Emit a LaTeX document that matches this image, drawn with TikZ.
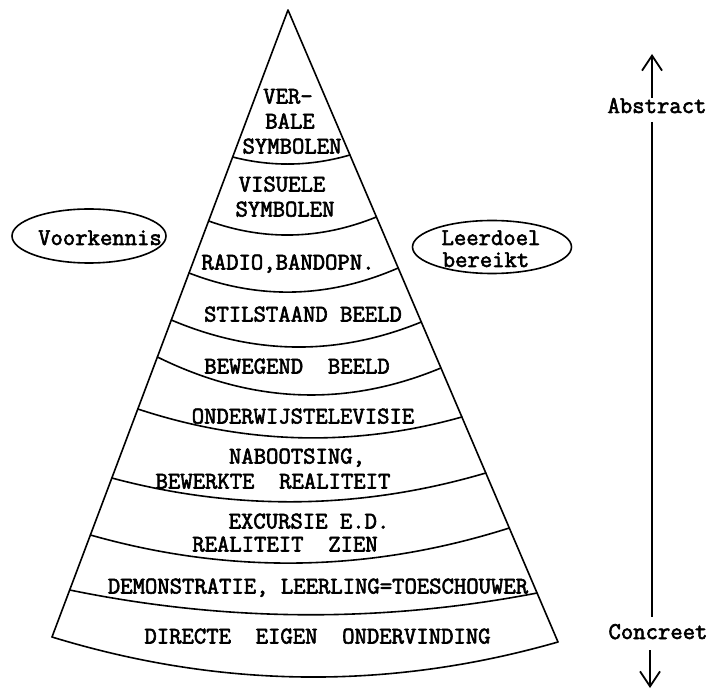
\documentclass[tikz,border=0pt]{standalone}
\usepackage{fontspec}
\newfontfamily\twfont{Latin Modern Mono}[FakeBold=2.5]
\usetikzlibrary{shapes.geometric,arrows.meta,calc}
\newcommand\pyrband[5]{\draw[edge] (#1,#2) .. controls ($(#1,#2)!1/3!(#3,#4)+(0,#5)$) and ($(#1,#2)!2/3!(#3,#4)+(0,#5)$) .. (#3,#4);}
\begin{document}
\begin{tikzpicture}[x=1pt,y=-1pt,
  edge/.style={line width=1.6pt,line join=round,line cap=round},
  txt/.style={font=\twfont\fontsize{24}{25}\selectfont,inner sep=0pt,anchor=base},
  ell/.style={draw,ellipse,line width=1.6pt,inner sep=0pt},
  arr/.style={line width=1.8pt,-{Straight Barb[length=15pt,width=20pt,line width=1.8pt]}}]
\useasboundingbox (0,0) rectangle (723,692);
% cone
\coordinate (A) at (288,10);
\coordinate (BL) at (52,637);
\coordinate (BR) at (558,642);
\draw[edge] (BL) -- (A) -- (BR);
\pyrband{232.7}{157}{349.9}{155}{10.7}
\pyrband{208.6}{221}{376.4}{217}{21.3}
\pyrband{189.0}{273}{398.2}{268}{28.7}
\pyrband{171.3}{320}{421.3}{322}{34.7}
\pyrband{157.4}{357}{440.9}{368}{43}
\pyrband{137.8}{409}{461.9}{417}{33}
\pyrband{111.8}{478}{485.8}{473}{35}
\pyrband{90.4}{535}{509.3}{528}{42}
\pyrband{69.7}{590}{537.1}{593}{31}
\pyrband{52}{637}{558}{642}{50}
% labels
\node[txt] (t1) at (288,103.5) {VER-};
\node[txt] (t2) at (290,128.5) {BALE};
\node[txt] (t3) at (292,153.5) {SYMBOLEN};
\node[txt] (t4) at (282,191.5) {VISUELE};
\node[txt] (t5) at (285,216.5) {SYMBOLEN};
\node[txt] (t6) at (288,269.5) {RADIO,BANDOPN.};
\node[txt] (t7) at (303,321.5) {STILSTAAND BEELD};
\node[txt] (t8) at (297,373.5) {BEWEGEND\ \ BEELD};
\node[txt] (t9) at (303,423.5) {ONDERWIJSTELEVISIE};
\node[txt] (t10) at (297,463.5) {NABOOTSING,};
\node[txt] (t11) at (273,488.5) {BEWERKTE\ \ REALITEIT};
\node[txt] (t12) at (309,528.5) {EXCURSIE E.D.};
\node[txt] (t13) at (285,551.5) {REALITEIT\ \ ZIEN};
\node[txt] (t14) at (318,593.5) {DEMONSTRATIE, LEERLING=TOESCHOUWER};
\node[txt] (t15) at (317.5,643.5) {DIRECTE\ \ EIGEN\ \ ONDERVINDING};
% ellipses
\node[ell,minimum width=154pt,minimum height=54pt] (vk) at (89,236) {};
\node[txt] (vkt) at (100,245) {Voorkennis};
\node[ell,minimum width=159pt,minimum height=53pt] (ld) at (492,247) {};
\node[txt] (ldt1) at (491,245) {Leerdoel};
\node[txt] (ldt2) at (486,267) {bereikt};
% scale arrow
\node[txt] (abs) at (657,113) {Abstract};
\node[txt] (con) at (658,639) {Concreet};
\coordinate (upS) at (652,98);
\coordinate (upT) at (652,54);
\coordinate (m1) at (652,122);
\coordinate (m2) at (652,617);
\coordinate (dnS) at (650,650);
\coordinate (dnT) at (650,688);
\draw[arr] (upS) -- (upT);
\draw[line width=1.8pt] (m1) -- (m2);
\draw[arr] (dnS) -- (dnT);
\end{tikzpicture}
\end{document}
